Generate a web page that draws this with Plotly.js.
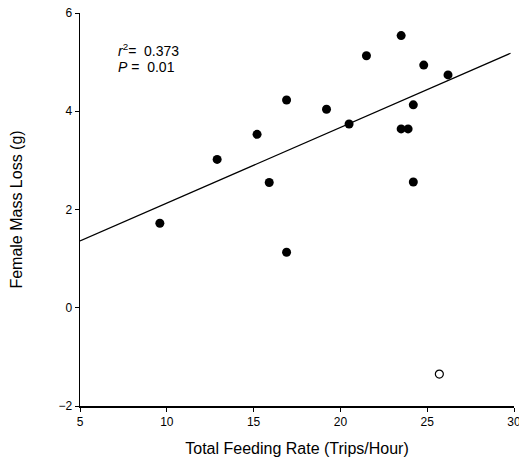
<!DOCTYPE html>
<html><head><meta charset="utf-8">
<script src="https://cdn.plot.ly/plotly-3.0.1.min.js"></script>
<style>body{margin:0;padding:0;background:#fff;overflow:hidden}#chart{width:519px;height:464px}</style>
</head><body><div id="chart"></div>
<script>
// Filled points (included in regression)
const feedRate = [9.6, 12.9, 15.2, 15.9, 16.9, 16.9, 19.2, 20.5, 21.5, 23.5, 23.5, 23.9, 24.2, 24.2, 24.8, 26.2];
const massLoss = [1.72, 3.02, 3.53, 2.55, 4.23, 1.13, 4.04, 3.74, 5.13, 5.54, 3.64, 3.64, 4.13, 2.56, 4.94, 4.74];
// Open point (outlier)
const outlierRate = [25.7];
const outlierLoss = [-1.35];
// Regression line endpoints
const lineX = [5, 29.8];
const lineY = [1.36, 5.18];
const xTicks = [5, 10, 15, 20, 25, 30];
const yTicks = [-2, 0, 2, 4, 6];

const font = "Liberation Sans, Arial, Helvetica, sans-serif";
const traces = [
  {x: lineX, y: lineY, mode: 'lines', line: {color: '#000', width: 1.2}, hoverinfo: 'skip', showlegend: false},
  {x: feedRate, y: massLoss, mode: 'markers', marker: {color: '#000', size: 9}, showlegend: false},
  {x: outlierRate, y: outlierLoss, mode: 'markers', marker: {color: '#fff', size: 8, line: {color: '#000', width: 1.2}}, showlegend: false}
];
const layout = {
  width: 519, height: 464,
  margin: {l: 80, r: 5, t: 13, b: 58},
  paper_bgcolor: '#fff', plot_bgcolor: '#fff',
  font: {family: font, color: '#000', size: 12},
  xaxis: {range: [5, 30], tickvals: xTicks, ticks: 'outside', ticklen: 4, tickwidth: 1, tickcolor: '#000',
    showline: true, linecolor: '#000', linewidth: 1.5, showgrid: false, zeroline: false,
    ticklabeloverflow: 'allow',
    tickfont: {size: 12}, title: {text: 'Total Feeding Rate (Trips/Hour)', font: {size: 16}, standoff: 15}},
  yaxis: {range: [-2, 6], tickvals: yTicks, ticks: 'outside', ticklen: 4, tickwidth: 1, tickcolor: '#000',
    showline: true, linecolor: '#000', linewidth: 1.5, showgrid: false, zeroline: false,
    tickfont: {size: 12}, title: {text: 'Female Mass Loss (g)', font: {size: 16}, standoff: 32}},
  annotations: [
    {xref: 'paper', yref: 'paper', x: 0.084, y: 0.905, xanchor: 'left', yanchor: 'middle', showarrow: false,
     text: '<i>r</i><sup>2</sup>=  0.373', font: {size: 14}},
    {xref: 'paper', yref: 'paper', x: 0.084, y: 0.862, xanchor: 'left', yanchor: 'middle', showarrow: false,
     text: '<i>P</i> =  0.01', font: {size: 14}}
  ]
};
Plotly.newPlot('chart', traces, layout, {displayModeBar: false, staticPlot: true});
</script></body></html>
